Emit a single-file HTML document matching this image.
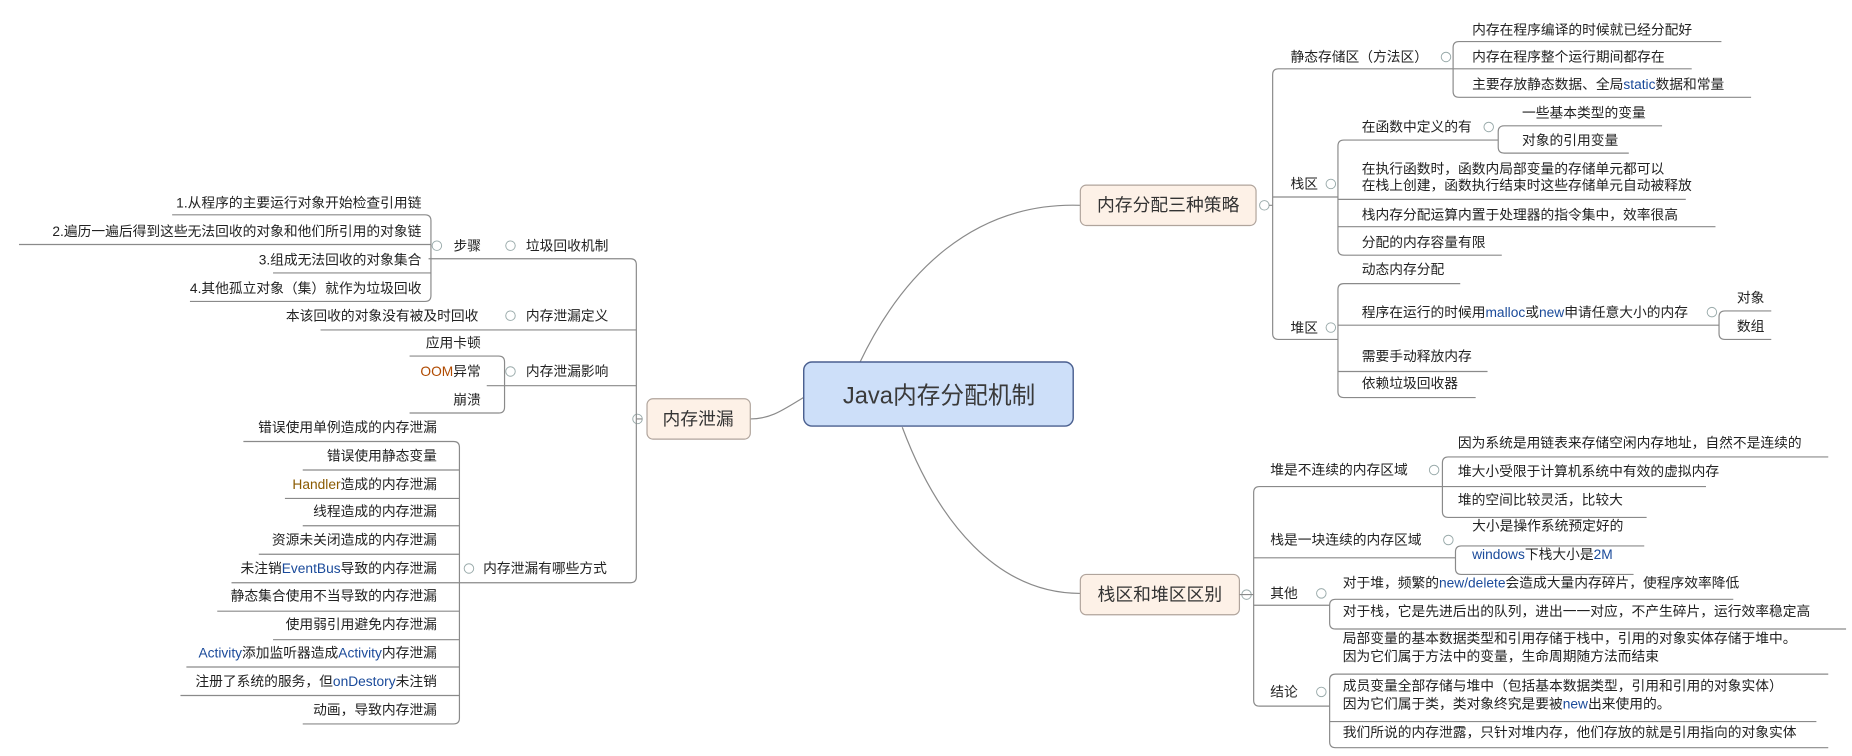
<!DOCTYPE html>
<html><head><meta charset="utf-8"><style>
html,body{margin:0;padding:0;background:#fff;width:1852px;height:756px;overflow:hidden}
svg text{font-family:"Liberation Sans","Noto Sans CJK SC",sans-serif;font-size:11.6px;fill:#222}
.l{stroke:#8a8a8a;stroke-width:1;fill:none}
.c{fill:#fff;stroke:#9aa;stroke-width:0.8}
.e{text-anchor:end}
.b{fill:#1a4a9a}
</style></head><body>
<svg width="1852" height="756" viewBox="0 0 1560 637" preserveAspectRatio="none" xmlns="http://www.w3.org/2000/svg">
<path class="l" d="M724 306 C760 230 820 170 910 173"/>
<path class="l" d="M760 360 C790 440 840 500 910 500"/>
<path class="l" d="M680 333 C660 345 650 353 632 353"/>

<rect x="677" y="305" width="227" height="54" rx="7" fill="#cddff9" stroke="#4a5f8f" stroke-width="1.2"/>
<text x="791" y="340" text-anchor="middle" style="font-size:20px;fill:#3a3a3a">Java内存分配机制</text>

<rect x="910" y="156" width="148" height="34" rx="5" fill="#fdf1e7" stroke="#b0a49c"/>
<text x="984" y="178" text-anchor="middle" style="font-size:15px;fill:#333">内存分配三种策略</text>
<circle class="c" cx="1065" cy="173" r="4"/>
<rect x="910" y="484" width="134" height="34" rx="5" fill="#fdf1e7" stroke="#b0a49c"/>
<text x="977" y="506" text-anchor="middle" style="font-size:15px;fill:#333">栈区和堆区区别</text>
<circle class="c" cx="1050" cy="501" r="4"/>
<rect x="545" y="336" width="87" height="34" rx="5" fill="#fdf1e7" stroke="#b0a49c"/>
<text x="588" y="358" text-anchor="middle" style="font-size:15px;fill:#333">内存泄漏</text>
<circle class="c" cx="537" cy="353" r="4"/>

<!-- top right -->
<path class="l" d="M1069 173 H1072 M1072 173 V63 Q1072 58 1077 58 H1224 M1072 166 H1127 M1072 173 V281 Q1072 286 1077 286 H1127"/>
<text x="1087" y="52">静态存储区（方法区）</text><circle class="c" cx="1218" cy="48" r="4"/>
<path class="l" d="M1224 77 V40 Q1224 35 1229 35 H1450 M1224 58 H1425 M1224 77 Q1224 82 1229 82 H1475"/>
<text x="1240" y="29">内存在程序编译的时候就已经分配好</text>
<text x="1240" y="52">内存在程序整个运行期间都存在</text>
<text x="1240" y="75">主要存放静态数据、全局<tspan class="b">static</tspan>数据和常量</text>

<text x="1087" y="159">栈区</text><circle class="c" cx="1121" cy="155" r="4"/>
<path class="l" d="M1127 210 V123 Q1127 118 1132 118 H1262 M1127 168 H1420 M1127 191 H1445 M1127 210 Q1127 215 1132 215 H1265"/>
<text x="1147" y="111">在函数中定义的有</text><circle class="c" cx="1254" cy="107" r="4"/>
<path class="l" d="M1262 124 V111 Q1262 106 1267 106 H1400 M1262 124 Q1262 129 1267 129 H1372"/>
<text x="1282" y="99">一些基本类型的变量</text>
<text x="1282" y="122">对象的引用变量</text>
<text x="1147" y="146">在执行函数时，函数内局部变量的存储单元都可以</text>
<text x="1147" y="160">在栈上创建，函数执行结束时这些存储单元自动被释放</text>
<text x="1147" y="185">栈内存分配运算内置于处理器的指令集中，效率很高</text>
<text x="1147" y="208">分配的内存容量有限</text>

<text x="1087" y="280">堆区</text><circle class="c" cx="1121" cy="276" r="4"/>
<path class="l" d="M1127 330 V244 Q1127 239 1132 239 H1230 M1127 274 H1448 M1127 313 H1253 M1127 330 Q1127 335 1132 335 H1243"/>
<text x="1147" y="231">动态内存分配</text>
<text x="1147" y="267">程序在运行的时候用<tspan class="b">malloc</tspan>或<tspan class="b">new</tspan>申请任意大小的内存</text><circle class="c" cx="1442" cy="263" r="4"/>
<path class="l" d="M1448 281 V267 Q1448 262 1453 262 H1492 M1448 281 Q1448 286 1453 286 H1492"/>
<text x="1463" y="255">对象</text>
<text x="1463" y="279">数组</text>
<text x="1147" y="304">需要手动释放内存</text>
<text x="1147" y="327">依赖垃圾回收器</text>

<!-- bottom right -->
<path class="l" d="M1044 501 H1056 M1056 501 V415 Q1056 410 1061 410 H1215 M1056 470 H1226 M1056 510 H1120 M1056 501 V590 Q1056 595 1061 595 H1120"/>
<text x="1070" y="400">堆是不连续的内存区域</text><circle class="c" cx="1208" cy="396" r="4"/>
<path class="l" d="M1215 431 V390 Q1215 385 1220 385 H1540 M1215 410 H1437 M1215 431 Q1215 436 1220 436 H1387"/>
<text x="1228" y="377">因为系统是用链表来存储空闲内存地址，自然不是连续的</text>
<text x="1228" y="401">堆大小受限于计算机系统中有效的虚拟内存</text>
<text x="1228" y="425">堆的空间比较灵活，比较大</text>

<text x="1070" y="459">栈是一块连续的内存区域</text><circle class="c" cx="1220" cy="455" r="4"/>
<path class="l" d="M1226 479 V465 Q1226 460 1231 460 H1385 M1226 479 Q1226 484 1231 484 H1376"/>
<text x="1240" y="447">大小是操作系统预定好的</text>
<text x="1240" y="471"><tspan class="b">windows</tspan>下栈大小是<tspan class="b">2M</tspan></text>

<text x="1070" y="504">其他</text><circle class="c" cx="1113" cy="500" r="4"/>
<path class="l" d="M1120 525 V510 Q1120 505 1125 505 H1460 M1120 525 Q1120 530 1125 530 H1555"/>
<text x="1131" y="495">对于堆，频繁的<tspan class="b">new/delete</tspan>会造成大量内存碎片，使程序效率降低</text>
<text x="1131" y="519">对于栈，它是先进后出的队列，进出一一对应，不产生碎片，运行效率稳定高</text>

<text x="1070" y="587">结论</text><circle class="c" cx="1113" cy="583" r="4"/>
<path class="l" d="M1120 625 V573 Q1120 568 1125 568 H1540 M1120 608 H1530 M1120 625 Q1120 630 1125 630 H1540"/>
<text x="1131" y="542">局部变量的基本数据类型和引用存储于栈中，引用的对象实体存储于堆中。</text>
<text x="1131" y="557">因为它们属于方法中的变量，生命周期随方法而结束</text>
<text x="1131" y="582">成员变量全部存储与堆中（包括基本数据类型，引用和引用的对象实体）</text>
<text x="1131" y="597">因为它们属于类，类对象终究是要被<tspan class="b">new</tspan>出来使用的。</text>
<text x="1131" y="621">我们所说的内存泄露，只针对堆内存，他们存放的就是引用指向的对象实体</text>

<!-- left -->
<path class="l" d="M541 353 H536 M536 353 V223 Q536 218 531 218 H361 M536 278 H270 M536 325 H425 M536 353 V486 Q536 491 531 491 H387"/>
<text x="443" y="211">垃圾回收机制</text><circle class="c" cx="430" cy="207" r="4"/>
<text x="382" y="211">步骤</text><circle class="c" cx="368" cy="207" r="4"/>
<path class="l" d="M363 218 V186 Q363 181 358 181 H145 M363 206 H16 M363 230 H230 M363 218 V249 Q363 254 358 254 H160"/>
<text class="e" x="355" y="175">1.从程序的主要运行对象开始检查引用链</text>
<text class="e" x="355" y="199">2.遍历一遍后得到这些无法回收的对象和他们所引用的对象链</text>
<text class="e" x="355" y="223">3.组成无法回收的对象集合</text>
<text class="e" x="355" y="247">4.其他孤立对象（集）就作为垃圾回收</text>

<text x="443" y="270">内存泄漏定义</text><circle class="c" cx="430" cy="266" r="4"/>
<text class="e" x="403" y="270">本该回收的对象没有被及时回收</text>

<text x="443" y="317">内存泄漏影响</text><circle class="c" cx="430" cy="313" r="4"/>
<path class="l" d="M425 325 V305 Q425 300 420 300 H345 M425 325 H410 M425 325 V343 Q425 348 420 348 H345"/>
<text class="e" x="405" y="293">应用卡顿</text>
<text class="e" x="405" y="317"><tspan style="fill:#b04a00">OOM</tspan>异常</text>
<text class="e" x="405" y="341">崩溃</text>

<text x="407" y="483">内存泄漏有哪些方式</text><circle class="c" cx="395" cy="479" r="4"/>
<path class="l" d="M387 491 V377 Q387 372 382 372 H205 M387 396 H255 M387 420 H240 M387 443 H255 M387 467 H218 M387 491 H195 M387 515 H183 M387 539 H230 M387 562 H157 M387 586 H152 M387 491 V605 Q387 610 382 610 H255"/>
<text class="e" x="368" y="364">错误使用单例造成的内存泄漏</text>
<text class="e" x="368" y="388">错误使用静态变量</text>
<text class="e" x="368" y="412"><tspan style="fill:#8a5a00">Handler</tspan>造成的内存泄漏</text>
<text class="e" x="368" y="435">线程造成的内存泄漏</text>
<text class="e" x="368" y="459">资源未关闭造成的内存泄漏</text>
<text class="e" x="368" y="483">未注销<tspan class="b">EventBus</tspan>导致的内存泄漏</text>
<text class="e" x="368" y="506">静态集合使用不当导致的内存泄漏</text>
<text class="e" x="368" y="530">使用弱引用避免内存泄漏</text>
<text class="e" x="368" y="554"><tspan class="b">Activity</tspan>添加监听器造成<tspan class="b">Activity</tspan>内存泄漏</text>
<text class="e" x="368" y="578">注册了系统的服务，但<tspan class="b">onDestory</tspan>未注销</text>
<text class="e" x="368" y="602">动画，导致内存泄漏</text>
</svg>
</body></html>
